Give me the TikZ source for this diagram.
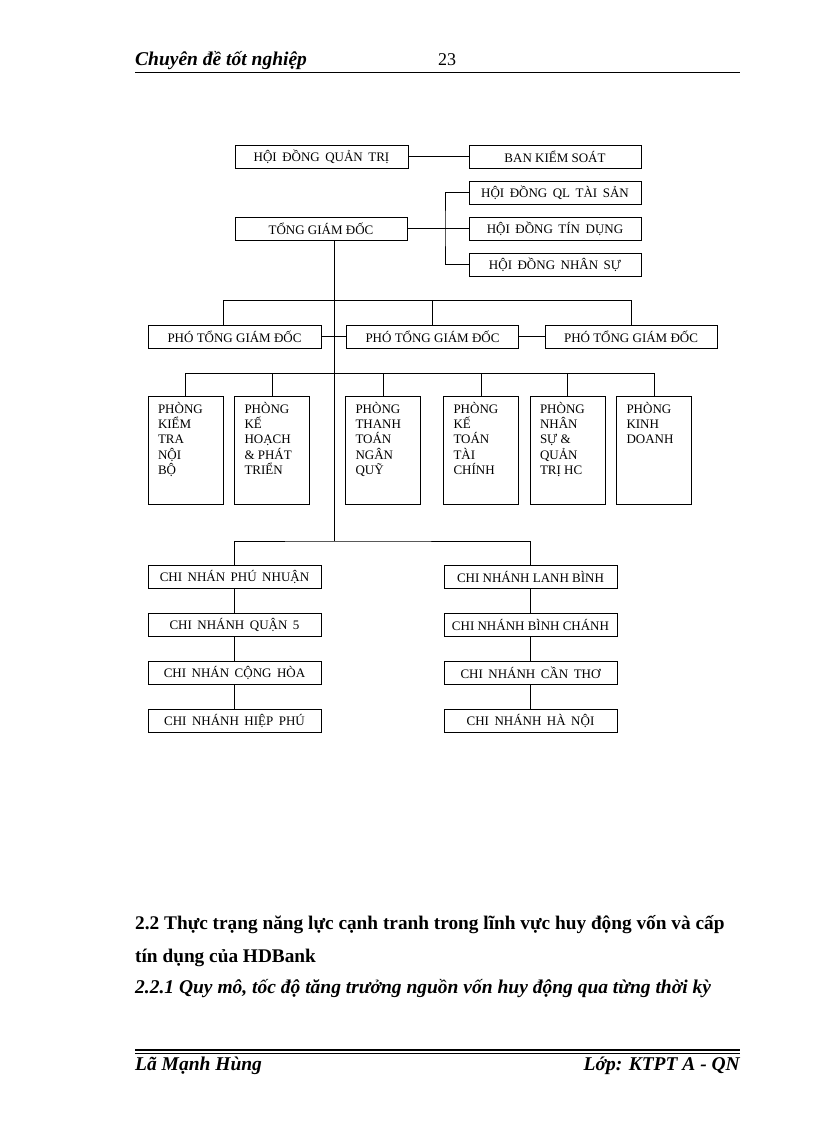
\documentclass[tikz,border=0pt]{standalone}
\usepackage{fontspec}
\setmainfont{Liberation Serif}
\newcommand\widespaces{\spaceskip=5.5pt plus 1pt\relax}

\begin{document}
\begin{tikzpicture}[
    x=1pt, y=-1pt,
    box/.style={draw=black, line width=0.9pt, minimum height=23pt,
        inner sep=0pt, font=\fontsize{13}{15.3}\selectfont},
    widebox/.style={box, font=\fontsize{13}{15.3}\selectfont\widespaces},
    dept/.style={box, minimum width=75pt, minimum height=108pt},
    edge/.style={line width=0.9pt, -},
    heading/.style={anchor=base west, inner sep=0pt,
        font=\bfseries\fontsize{19.3}{22}\selectfont},
    slanted/.style={heading, font=\bfseries\itshape\fontsize{19.5}{22}\selectfont}
]
    \useasboundingbox (0,0) rectangle (816,1123);

    % page header
    \node[slanted] (hdr) at (135,66) {Chuyên đề tốt nghiệp};
    \node[anchor=base west, inner sep=0pt, font=\fontsize{18}{20}\selectfont] (pg) at (438,66) {23};
    \draw[line width=1.6pt] (135,72.5) coordinate (hl) -- (740,72.5) coordinate (hr);

    % board and general director
    \node[widebox, minimum width=173pt] (hdqt) at (321.5,156.5) {HỘI ĐỒNG QUẢN TRỊ};
    \node[box, minimum width=172pt] (bks) at (555,156.5) {BAN KIỂM SOÁT};
    \node[widebox, minimum width=172pt] (ql) at (555,192.5) {HỘI ĐỒNG QL TÀI SẢN};
    \node[box, minimum width=172pt] (tgd) at (321,228.5) {TỔNG GIÁM ĐỐC};
    \node[widebox, minimum width=172pt] (td) at (555,228.5) {HỘI ĐỒNG TÍN DỤNG};
    \node[widebox, minimum width=172pt] (ns) at (555,264.5) {HỘI ĐỒNG NHÂN SỰ};
    \coordinate (brk) at (445,228.5);
    \draw[edge] (hdqt) -- (bks);
    \draw[edge] (tgd) -- (td);
    \draw[edge] (ql.west) -| (brk) |- (ns.west);

    % deputy directors
    \node[box, minimum width=173pt] (p1) at (234.5,336.5) {PHÓ TỔNG GIÁM ĐỐC};
    \node[box, minimum width=172pt] (p2) at (432.5,336.5) {PHÓ TỔNG GIÁM ĐỐC};
    \node[box, minimum width=172pt] (p3) at (631,336.5) {PHÓ TỔNG GIÁM ĐỐC};
    \coordinate (spine) at (334,541);
    \coordinate (pbus) at (223,300);
    \draw[edge] (tgd.south -| spine) -- (spine);
    \draw[edge] (pbus |- p1.north) -- (pbus) -| (p3.north);
    \draw[edge] (pbus -| p2.north) -- (p2.north);
    \draw[edge] (p1) -- (p2);
    \draw[edge] (p2) -- (p3);

    % departments
    \node[dept] (d1) at (185.5,450) {\parbox[c][96pt][t]{55pt}{PHÒNG\\KIỂM\\TRA\\NỘI\\BỘ}};
    \node[dept] (d2) at (272,450) {\parbox[c][96pt][t]{55pt}{PHÒNG\\KẾ\\HOẠCH\\\& PHÁT\\TRIỂN}};
    \node[dept] (d3) at (383,450) {\parbox[c][96pt][t]{55pt}{PHÒNG\\THANH\\TOÁN\\NGÂN\\QUỸ}};
    \node[dept] (d4) at (481,450) {\parbox[c][96pt][t]{55pt}{PHÒNG\\KẾ\\TOÁN\\TÀI\\CHÍNH}};
    \node[dept] (d5) at (567.5,450) {\parbox[c][96pt][t]{55pt}{PHÒNG\\NHÂN\\SỰ \&\\QUẢN\\TRỊ HC}};
    \node[dept] (d6) at (654,450) {\parbox[c][96pt][t]{55pt}{PHÒNG\\KINH\\DOANH}};
    \coordinate (dbus) at (334,373);
    \draw[edge] (dbus -| d1.north) -- (dbus -| d6.north);
    \foreach \i in {1,...,6}
        \draw[edge] (dbus -| d\i.north) -- (d\i.north);

    % branches
    \node[widebox, minimum width=173pt] (c1) at (234.5,576.5) {CHI NHÁN PHÚ NHUẬN};
    \node[widebox, minimum width=173pt] (c2) at (234.5,624.5) {CHI NHÁNH QUẬN 5};
    \node[widebox, minimum width=173pt] (c3) at (234.5,672.5) {CHI NHÁN CỘNG HÒA};
    \node[widebox, minimum width=173pt] (c4) at (234.5,720.5) {CHI NHÁNH HIỆP PHÚ};
    \node[box, minimum width=173pt] (r1) at (530.5,576.5) {CHI NHÁNH LANH BÌNH};
    \node[box, minimum width=173pt] (r2) at (530.5,624.5) {CHI NHÁNH BÌNH CHÁNH};
    \node[widebox, minimum width=173pt] (r3) at (530.5,672.5) {CHI NHÁNH CẦN THƠ};
    \node[widebox, minimum width=173pt] (r4) at (530.5,720.5) {CHI NHÁNH HÀ NỘI};
    \draw[edge] (c1.north) |- (spine) -| (r1.north);
    \foreach \a/\b in {1/2,2/3,3/4} {
        \draw[edge] (c\a) -- (c\b);
        \draw[edge] (r\a) -- (r\b);
    }

    % section headings
    \node[heading] (s22a) at (135,929) {2.2 Thực trạng năng lực cạnh tranh trong lĩnh vực huy động vốn và cấp};
    \node[heading] (s22b) at (135,962) {tín dụng của HDBank};
    \node[slanted] (s221) at (135,993) {2.2.1 Quy mô, tốc độ tăng trưởng nguồn vốn huy động qua từng thời kỳ};

    % page footer
    \draw[line width=1.4pt] (135,1050) -- (740,1050);
    \draw[line width=0.8pt] (135,1053.5) -- (740,1053.5);
    \node[slanted] (auth) at (135,1070) {Lã Mạnh Hùng};
    \node[slanted, anchor=base east] (cls) at (740,1070) {Lớp: KTPT A - QN};
\end{tikzpicture}
\end{document}
